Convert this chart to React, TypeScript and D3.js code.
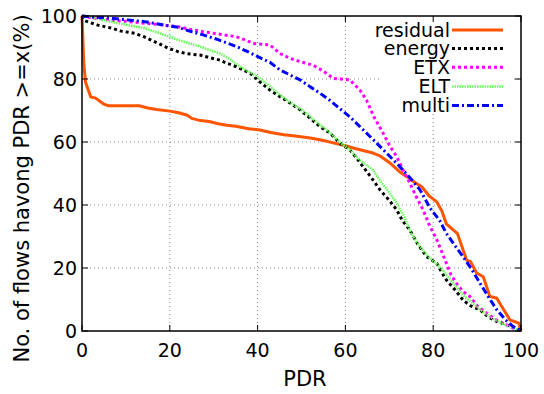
import React from "react";
import * as d3 from "d3";

const xTicks = [0, 20, 40, 60, 80, 100];
const yTicks = [0, 20, 40, 60, 80, 100];

const residual: [number, number][] = [[0,100],[0.4,85],[0.8,79],[2,74.3],[3,74],[4,73],[5,72],[6,71.5],[13,71.5],[15,70.8],[17,70.3],[20,69.8],[22,69.3],[24,68.5],[25,67.5],[27,66.8],[29,66.5],[31,65.8],[33,65.3],[35,65],[38,64.2],[40.5,63.8],[43,63],[46,62.3],[49,61.8],[52,61.3],[55,60.5],[57,59.8],[60,58.8],[62,58],[64,57.3],[66.3,56.5],[68,55.5],[70,53.5],[72.4,50.5],[74,49],[75,48],[76,47],[77.4,45.8],[79,43],[80.8,41],[82,38],[83,34],[84.6,32],[85.5,31],[86.5,27],[87.6,22.5],[88.5,22],[89.9,18.4],[91.4,17.2],[92.2,14],[92.9,11],[94.5,10.4],[95.5,8],[97.5,3.5],[99.5,2.5],[100,0]];
const energy: [number, number][] = [[0,100],[0.6,98.5],[3.6,97.1],[6.6,96.2],[8.9,95.2],[12,94.5],[14,93.5],[16.5,91.9],[19.6,89.8],[21.9,88.7],[24,88],[26.9,87.6],[29,86.8],[31.4,86],[33,85],[35.2,83.9],[38.3,81.8],[40.5,79.1],[42.8,76.5],[45.1,74.4],[47.5,72.3],[49.7,70.2],[52,67.5],[54.2,64.9],[56.5,62.8],[58.8,59.6],[61,57.5],[62.5,55],[64,52.2],[66,48.5],[67.9,44.8],[70,41.5],[71.7,38.4],[73,35],[74.7,32],[76.5,27.5],[78.5,23.6],[80.8,21.5],[82,18.5],[83,16.2],[85,13],[86.8,9.8],[88.5,8],[90.7,6.7],[92.5,4.5],[94.5,3],[97,1.8],[99,0.9],[100,0]];
const etx: [number, number][] = [[0,100],[2,99.5],[6.6,98.7],[10,98.3],[14.3,97.7],[18,97.2],[21.9,96.6],[24.5,95.8],[27.6,95],[31,94.3],[35.2,93.4],[37,92.5],[39,91.3],[42.8,90.8],[45.1,88.1],[47.5,86.5],[49.7,85.5],[52.6,84.4],[55,82.5],[57.2,80.2],[59,80],[61,79.7],[63.3,76.5],[64.8,73.3],[66.5,68],[68.6,62.8],[70,59],[71.7,55.3],[73,51.5],[74.7,46.9],[76,43],[77.7,38.5],[79,34],[80.8,29],[82,25],[83,21.5],[84,18],[85.3,15.1],[86.8,12.5],[88.4,10.9],[90,8],[92.2,5.6],[94,3.8],[96,2.4],[98,1],[100,0]];
const elt: [number, number][] = [[0,100],[1.4,100],[4,99],[6.6,98.2],[10.5,97.1],[14.3,96.1],[18.8,94],[20,93.4],[21.9,92.4],[24,91.5],[26.9,90.3],[29,89.2],[31.4,88.1],[33.5,86.5],[36,83.9],[38.5,82],[40.5,80.2],[42.8,77.6],[45.1,75],[47.5,72.5],[49.7,70.5],[52,68],[54.2,65.5],[56.5,63],[58.8,59.8],[61,57.5],[63.5,54],[66.3,51.1],[68,47.5],[70,44],[71.7,40.6],[73.5,36],[75,31],[77,26.7],[79,23.5],[81.5,20.4],[83.5,17],[85.3,14],[87,11],[89,8.8],[91,6.5],[92.9,4.5],[95,2.8],[97.5,1.4],[100,0]];
const multi: [number, number][] = [[0,100],[3,99.6],[6.6,99.3],[10,98.8],[14.3,98.2],[18,97.3],[21.9,96.4],[24.5,95.2],[27.6,94],[31,92.5],[35.2,90.3],[38,88.5],[40.5,86.8],[42.8,85.3],[45.1,82.9],[47.5,81.2],[49.7,79.7],[52,77.5],[54.2,75.5],[56.5,73.2],[58.8,70.5],[61,68],[63.3,64.9],[66.3,60.8],[69,57],[71.7,53.2],[74.5,49],[77,44.8],[79.3,39],[81.5,35],[83,31],[85,27],[86.8,23.6],[88.8,19.5],[90.7,15.1],[92.5,11],[94.5,6.7],[96.5,3.5],[98.2,1.4],[100,0]];

const seriesNames = ["residual", "energy", "ETX", "ELT", "multi"];

const styles: Record<string, { color: string; width: number; dash: string }> = {
  residual: { color: "#ff5500", width: 3, dash: "" },
  energy: { color: "#000000", width: 3, dash: "3,3" },
  ETX: { color: "#ff00ff", width: 3, dash: "3,3" },
  ELT: { color: "#66ff55", width: 2.5, dash: "1.5,1" },
  multi: { color: "#0000ff", width: 3, dash: "7,3,2,3" },
};

const L = 82, R = 521, T = 16, B = 331;

export default function App() {
  const x = d3.scaleLinear().domain([0, 100]).range([L, R]);
  const y = d3.scaleLinear().domain([0, 100]).range([B, T]);
  const line = d3.line<[number, number]>().x(d => x(d[0])).y(d => y(d[1]));
  const dataMap: Record<string, [number, number][]> = { residual, energy, ETX: etx, ELT: elt, multi };
  const font = "DejaVu Sans, sans-serif";
  const legendY = [30, 48.5, 67.3, 86.5, 105.5];
  return (
    <svg width={544} height={394} style={{ position: "absolute", left: 0, top: 0 }} fontFamily={font}>
      <rect x={0} y={0} width={544} height={394} fill="#fff" />
      {xTicks.slice(1, -1).map(t => (
        <line key={"gx" + t} x1={x(t)} x2={x(t)} y1={B} y2={T} stroke="#888" strokeWidth={1} strokeDasharray="1,3" />
      ))}
      {yTicks.slice(1, -1).map(t => (
        <line key={"gy" + t} x1={L} x2={R} y1={y(t)} y2={y(t)} stroke="#888" strokeWidth={1} strokeDasharray="1,3" />
      ))}
      {seriesNames.map(n => (
        <path key={n} d={line(dataMap[n]) || ""} fill="none" stroke={styles[n].color} strokeWidth={styles[n].width}
          strokeDasharray={styles[n].dash} strokeLinejoin="round" />
      ))}
      <rect x={380} y={18} width={134} height={96} fill="#fff" />
      {seriesNames.map((n, i) => (
        <g key={"lg" + n}>
          <text x={450} y={legendY[i]} dy="0.35em" textAnchor="end" fontSize={19} fill="#000">{n}</text>
          <line x1={452} x2={503} y1={legendY[i]} y2={legendY[i]} stroke={styles[n].color} strokeWidth={styles[n].width}
            strokeDasharray={styles[n].dash} />
        </g>
      ))}
      {xTicks.map(t => (
        <g key={"tx" + t}>
          <line x1={x(t)} x2={x(t)} y1={B} y2={B - 6} stroke="#000" strokeWidth={1} />
          <line x1={x(t)} x2={x(t)} y1={T} y2={T + 6} stroke="#000" strokeWidth={1} />
          <text x={x(t)} y={357} textAnchor="middle" fontSize={19} fill="#000">{t}</text>
        </g>
      ))}
      {yTicks.map(t => (
        <g key={"ty" + t}>
          <line x1={L} x2={L + 6} y1={y(t)} y2={y(t)} stroke="#000" strokeWidth={1} />
          <line x1={R} x2={R - 6} y1={y(t)} y2={y(t)} stroke="#000" strokeWidth={1} />
          <text x={77} y={y(t)} dy="0.35em" textAnchor="end" fontSize={19} fill="#000">{t}</text>
        </g>
      ))}
      <rect x={L} y={T} width={R - L} height={B - T} fill="none" stroke="#000" strokeWidth={1.5} />
      <text x={305} y={386} textAnchor="middle" fontSize={21} fill="#000">PDR</text>
      <text transform={`translate(29,${(T + B) / 2 + 15}) rotate(-90)`} textAnchor="middle" fontSize={21} fill="#000">
        No. of flows havong PDR &gt;=x(%)
      </text>
    </svg>
  );
}
